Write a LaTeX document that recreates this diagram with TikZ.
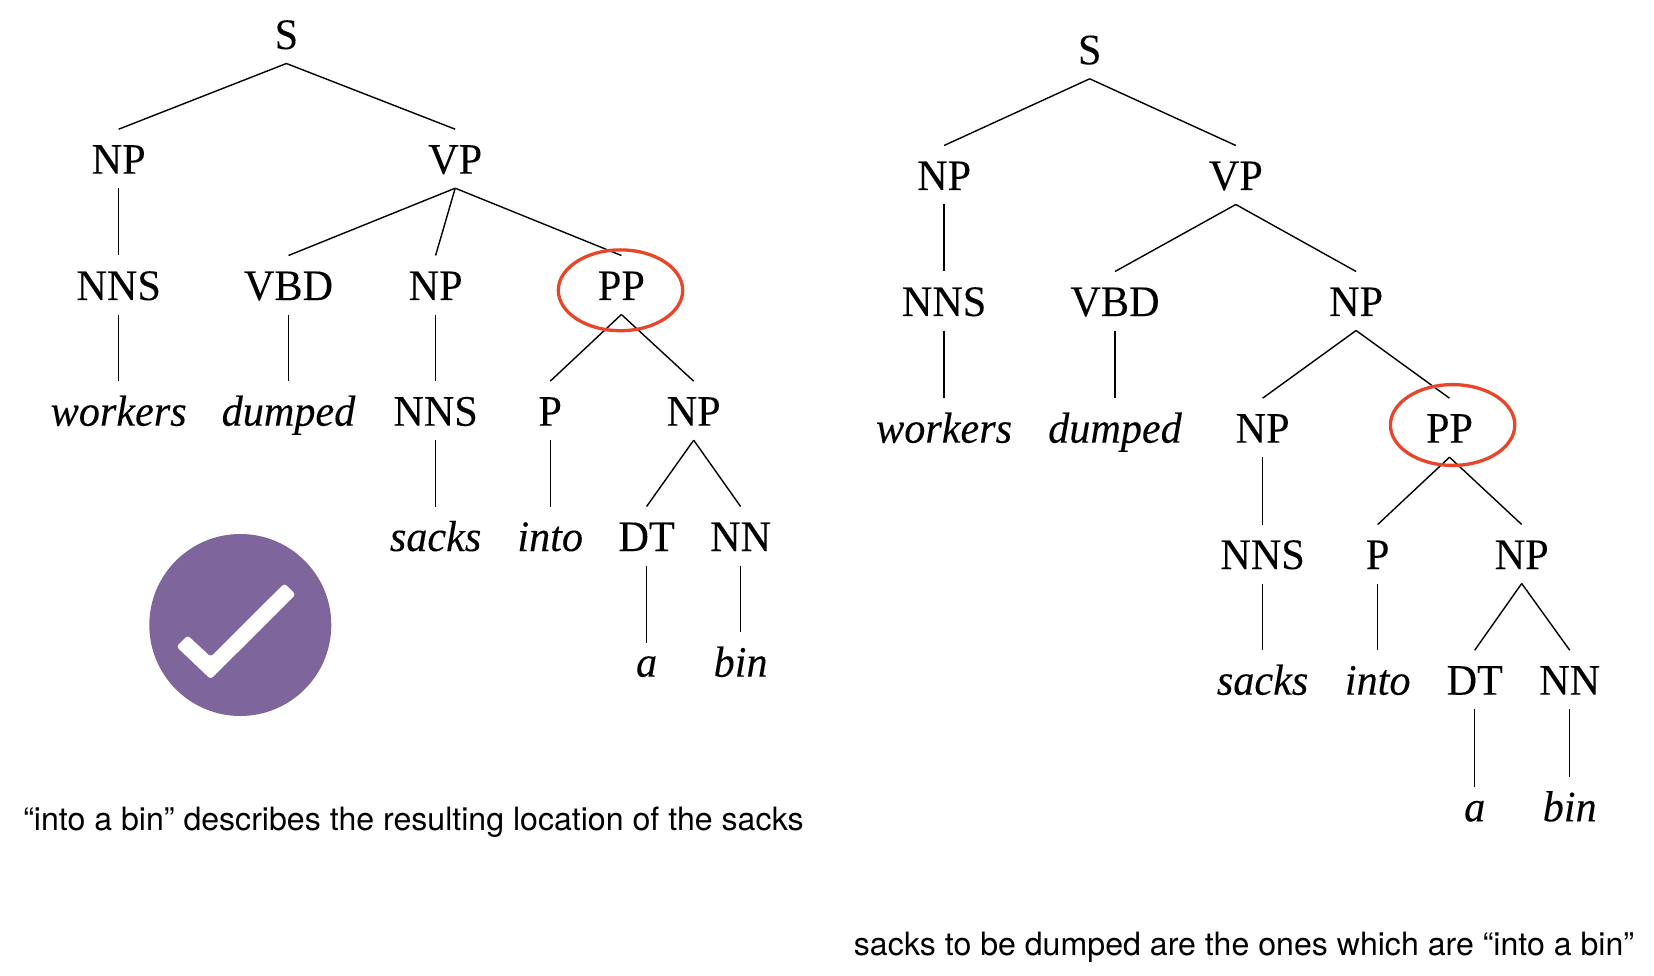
\documentclass[tikz,border=0pt]{standalone}
\usepackage{fontspec}
\setmainfont[FakeStretch=0.97, FakeBold=0.12]{Liberation Serif}
\newfontfamily\captionfont{TeX Gyre Heros}
\usetikzlibrary{shapes.geometric}
\definecolor{ringred}{HTML}{E8452A}
\definecolor{badgepurple}{HTML}{7E669C}
\tikzstyle{tree label} = [anchor = base, inner sep = 0, outer sep = 0, text height = 44.5pt, text depth = 14.5pt, font = \fontsize{43.5}{43.5}\selectfont]
\tikzstyle{leaf} = [tree label, font = \fontsize{43.5}{43.5}\selectfont\itshape]
\tikzstyle{short leaf} = [leaf, text height = 34pt]
\tikzstyle{edge} = [line width = 1.4pt]
\tikzstyle{ring} = [ellipse, draw = ringred, line width = 3.3pt, inner sep = 0, minimum width = 124.4pt, minimum height = 80.8pt]
\tikzstyle{badge} = [circle, fill = badgepurple, inner sep = 0, minimum size = 182pt]
\tikzstyle{note} = [anchor = base, inner sep = 0, font = \captionfont\fontsize{32.1}{32.1}\selectfont]

\begin{document}
\begin{tikzpicture}[x=1pt, y=-1pt]
    \useasboundingbox (0, 0) rectangle (1654, 976);

    % left tree
    \foreach \n/\x/\y/\t in {aS/286.4/49/S, aNP/118.7/173.7/NP, aVP/455.2/173.7/VP,
        aNNS/118.7/300/NNS, aVBD/288.5/300/VBD, aNPb/435.6/300/NP, aPP/621.4/300/PP,
        aNNSb/435.6/425.7/NNS, aP/550.2/425.7/P, aNPc/693.7/425.7/NP,
        aDT/646.6/551/DT, aNN/740.6/551/NN}
    {
        \node [tree label] (\n) at (\x, \y) {\t};
    }
    \foreach \n/\x/\y/\t in {aworkers/118.7/425.7/workers, adumped/288.5/425.7/dumped,
        asacks/435.6/551/sacks, ainto/550.2/551/into, abin/740.6/676.7/bin}
    {
        \node [leaf] (\n) at (\x, \y) {\t};
    }
    \node [short leaf] (aa) at (646.6, 676.7) {a};

    \foreach \p/\c in {aS/aNP, aS/aVP, aNP/aNNS, aNNS/aworkers, aVP/aVBD, aVP/aNPb, aVP/aPP,
        aVBD/adumped, aNPb/aNNSb, aNNSb/asacks, aPP/aP, aPP/aNPc, aP/ainto,
        aNPc/aDT, aNPc/aNN, aDT/aa, aNN/abin}
    {
        \draw [edge] (\p.south) -- (\c.north);
    }

    % right tree
    \foreach \n/\x/\y/\t in {bS/1089.7/64.3/S, bNP/944.1/190/NP, bVP/1235.8/190/VP,
        bNNS/944.1/316/NNS, bVBD/1115/316/VBD, bNPb/1356.1/316/NP,
        bNPc/1262.6/442.7/NP, bPP/1449.5/442.7/PP,
        bNNSb/1262.6/569/NNS, bP/1377.7/569/P, bNPd/1521.7/569/NP,
        bDT/1474.7/694.7/DT, bNN/1569.7/694.7/NN}
    {
        \node [tree label] (\n) at (\x, \y) {\t};
    }
    \foreach \n/\x/\y/\t in {bworkers/944.1/442.7/workers, bdumped/1115/442.7/dumped,
        bsacks/1262.6/694.7/sacks, binto/1377.7/694.7/into, bbin/1569.7/821.3/bin}
    {
        \node [leaf] (\n) at (\x, \y) {\t};
    }
    \node [short leaf] (ba) at (1474.7, 821.3) {a};

    \foreach \p/\c in {bS/bNP, bS/bVP, bNP/bNNS, bNNS/bworkers, bVP/bVBD, bVP/bNPb,
        bVBD/bdumped, bNPb/bNPc, bNPb/bPP, bNPc/bNNSb, bNNSb/bsacks, bPP/bP, bPP/bNPd,
        bP/binto, bNPd/bDT, bNPd/bNN, bDT/ba, bNN/bbin}
    {
        \draw [edge] (\p.south) -- (\c.north);
    }

    \node [ring] (aring) at (620.5, 290.3) {};
    \node [ring] (bring) at (1452.6, 425) {};

    \node [badge] (tick) at (240.3, 625) {};
    \fill [white, rounded corners = 3pt] (176.4, 646.6) -- (187.6, 635.4) -- (210.7, 656.8)
        -- (284.4, 583.4) -- (295.6, 594.6) -- (210.7, 679.2) -- cycle;

    \node [note] (anote) at (413.5, 830.5) {“into a bin” describes the resulting location of the sacks};
    \node [note] (bnote) at (1244, 955.5) {sacks to be dumped are the ones which are “into a bin”};
\end{tikzpicture}
\end{document}
